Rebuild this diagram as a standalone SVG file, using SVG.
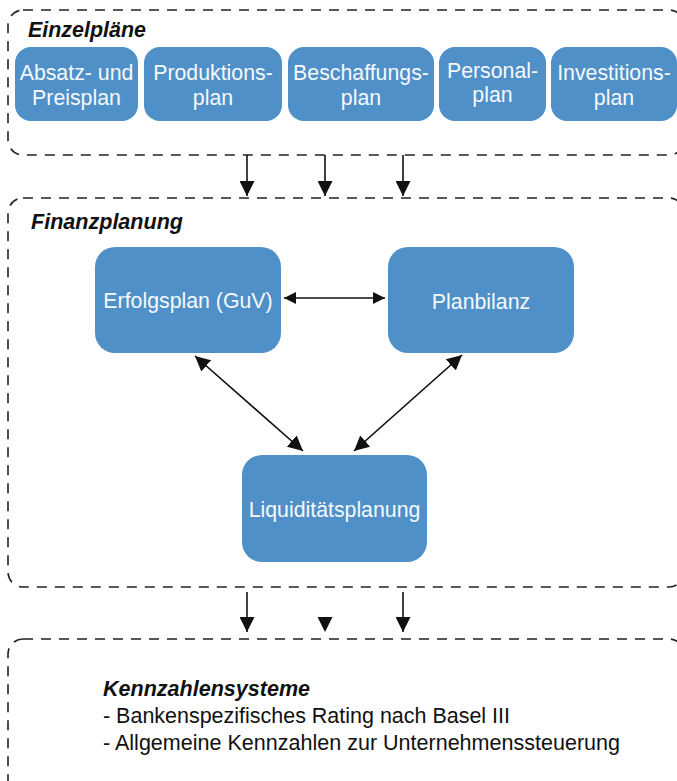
<svg xmlns="http://www.w3.org/2000/svg" width="677" height="781" viewBox="0 0 677 781">
  <defs>
    <marker id="head" viewBox="0 0 14 14" refX="14" refY="7" markerWidth="15" markerHeight="15" markerUnits="userSpaceOnUse" orient="auto-start-reverse">
      <path d="M0,0 L14,7 L0,14 z" fill="#111"/>
    </marker>
    <marker id="headSmall" viewBox="0 0 14 14" refX="14" refY="7" markerWidth="12" markerHeight="12" markerUnits="userSpaceOnUse" orient="auto-start-reverse">
      <path d="M0,0 L14,7 L0,14 z" fill="#111"/>
    </marker>
  </defs>
  <style>
    .frame { fill: none; stroke: #222; stroke-width: 1.6; stroke-dasharray: 10 8; }
    .box { fill: #4F90C8; }
    .label { font-family: "Liberation Sans", Arial, sans-serif; font-size: 21.3px; fill: #F6F9FC; text-anchor: middle; }
    .title { font-family: "Liberation Sans", Arial, sans-serif; font-size: 21.3px; font-weight: bold; font-style: italic; fill: #111; }
    .body { font-family: "Liberation Sans", Arial, sans-serif; font-size: 21.5px; fill: #111; }
    .link { fill: none; stroke: #111; stroke-width: 1.6; }
  </style>
  <rect width="677" height="781" fill="#fff"/>

  <!-- Einzelpläne -->
  <g id="einzelplaene">
    <rect class="frame" x="8" y="10" width="676" height="145" rx="15"/>
    <text class="title" x="28" y="37" textLength="118" lengthAdjust="spacingAndGlyphs">Einzelpläne</text>
  </g>
  <g id="absatz">
    <rect class="box" x="15" y="47" width="123" height="74" rx="16"/>
    <text class="label" x="76.5" y="80">Absatz- und</text>
    <text class="label" x="76.5" y="105">Preisplan</text>
  </g>
  <g id="produktion">
    <rect class="box" x="144" y="47" width="138" height="74" rx="16"/>
    <text class="label" x="213" y="80">Produktions-</text>
    <text class="label" x="213" y="105">plan</text>
  </g>
  <g id="beschaffung">
    <rect class="box" x="288" y="47" width="146" height="74" rx="16"/>
    <text class="label" x="361" y="80">Beschaffungs-</text>
    <text class="label" x="361" y="105">plan</text>
  </g>
  <g id="personal">
    <rect class="box" x="439" y="47" width="107" height="74" rx="16"/>
    <text class="label" x="492.5" y="78">Personal-</text>
    <text class="label" x="492.5" y="102">plan</text>
  </g>
  <g id="investition">
    <rect class="box" x="551" y="47" width="126" height="74" rx="16"/>
    <text class="label" x="614" y="80">Investitions-</text>
    <text class="label" x="614" y="105">plan</text>
  </g>

  <!-- Finanzplanung -->
  <g id="finanzplanung">
    <rect class="frame" x="8" y="198" width="676" height="389" rx="15"/>
    <text class="title" x="31" y="229" textLength="152" lengthAdjust="spacingAndGlyphs">Finanzplanung</text>
  </g>
  <g id="erfolgsplan">
    <rect class="box" x="95" y="247" width="186" height="106" rx="20"/>
    <text class="label" x="188" y="308">Erfolgsplan (GuV)</text>
  </g>
  <g id="planbilanz">
    <rect class="box" x="388" y="247" width="186" height="106" rx="20"/>
    <text class="label" x="481" y="309">Planbilanz</text>
  </g>
  <g id="liquiditaet">
    <rect class="box" x="242" y="455" width="185" height="107" rx="20"/>
    <text class="label" x="334.5" y="517">Liquiditätsplanung</text>
  </g>

  <!-- Kennzahlensysteme -->
  <g id="kennzahlen">
    <rect class="frame" x="8" y="639" width="676" height="170" rx="15"/>
    <text class="title" x="103" y="696" textLength="207" lengthAdjust="spacingAndGlyphs">Kennzahlensysteme</text>
    <text class="body" x="103" y="723" textLength="407" lengthAdjust="spacingAndGlyphs">- Bankenspezifisches Rating nach Basel III</text>
    <text class="body" x="103" y="750" textLength="517" lengthAdjust="spacingAndGlyphs">- Allgemeine Kennzahlen zur Unternehmenssteuerung</text>
  </g>

  <!-- connectors -->
  <g id="connectors">
    <path class="link" d="M247,155 V196" marker-end="url(#head)"/>
    <path class="link" d="M325,155 V196" marker-end="url(#head)"/>
    <path class="link" d="M403,155 V196" marker-end="url(#head)"/>

    <path class="link" d="M284,298 H385" marker-start="url(#headSmall)" marker-end="url(#headSmall)"/>
    <path class="link" d="M195,356 L303,451" marker-start="url(#head)" marker-end="url(#head)"/>
    <path class="link" d="M462,355 L354,451" marker-start="url(#head)" marker-end="url(#head)"/>

    <path class="link" d="M247,592 V632" marker-end="url(#head)"/>
    <path d="M325,617 V632" fill="none" stroke="none" marker-end="url(#head)"/>
    <path class="link" d="M403,592 V632" marker-end="url(#head)"/>
  </g>
</svg>
